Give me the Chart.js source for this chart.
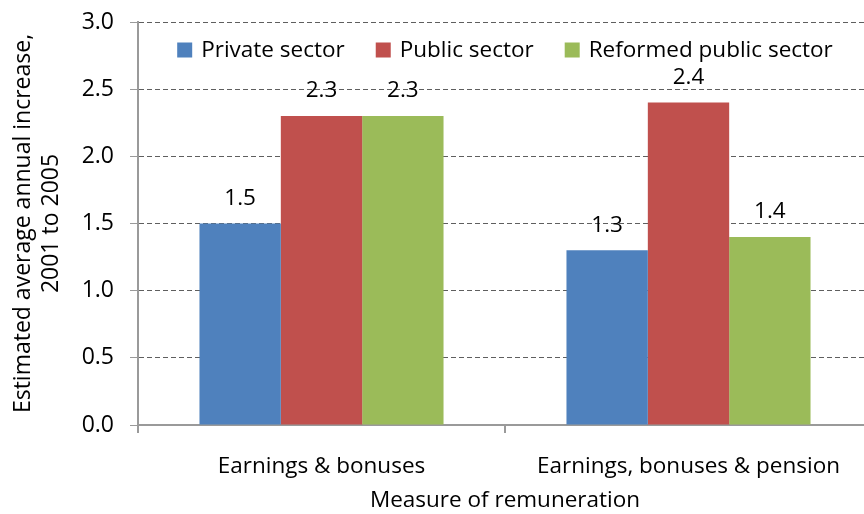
<!DOCTYPE html>
<html>
<head>
<meta charset="utf-8">
<script src="https://cdn.jsdelivr.net/npm/chart.js@4.4.1/dist/chart.umd.min.js"></script>
<style>
  html, body { margin: 0; padding: 0; background: #fff; overflow: hidden; width: 864px; height: 514px; }
  #wrap { position: relative; width: 900px; height: 514px; }
</style>
</head>
<body>
<div id="wrap"><canvas id="c"></canvas></div>
<script>
const categories = ["Earnings & bonuses", "Earnings, bonuses & pension"];
const seriesNames = ["Private sector", "Public sector", "Reformed public sector"];
const privateSector = [1.5, 1.3];
const publicSector = [2.3, 2.4];
const reformedPublicSector = [2.3, 1.4];
const yTicks = [0.0, 0.5, 1.0, 1.5, 2.0, 2.5, 3.0];
const colors = ["#4F81BD", "#C0504D", "#9BBB59"];

const FONT = "'Open Sans', sans-serif";
const FS = 22.5;

const labelPlugin = {
  id: 'valueLabels',
  afterDatasetsDraw(chart) {
    const ctx = chart.ctx;
    ctx.save();
    ctx.font = FS + "px " + FONT;
    ctx.fillStyle = "#000";
    ctx.textAlign = "center";
    ctx.textBaseline = "middle";
    chart.data.datasets.forEach((ds, i) => {
      const meta = chart.getDatasetMeta(i);
      meta.data.forEach((el, j) => {
        ctx.fillText(ds.data[j].toFixed(1), el.x, el.y - 25);
      });
    });
    ctx.restore();
  }
};

const legendPlugin = {
  id: 'insideLegend',
  afterDatasetsDraw(chart) {
    const ctx = chart.ctx;
    const ca = chart.chartArea;
    ctx.save();
    ctx.font = FS + "px " + FONT;
    ctx.textBaseline = "middle";
    const box = 15, gapText = 9, gapItem = 31;
    const items = chart.data.datasets.map(ds => ({ label: ds.label, color: ds.backgroundColor, w: ctx.measureText(ds.label).width }));
    let total = 0;
    items.forEach((it, i) => { total += box + gapText + it.w + (i < items.length - 1 ? gapItem : 0); });
    let x = (ca.left + ca.right) / 2 - total / 2;
    const y = 50;
    items.forEach(it => {
      ctx.fillStyle = it.color;
      ctx.fillRect(x, y - box / 2, box, box);
      ctx.fillStyle = "#000";
      ctx.textAlign = "left";
      ctx.fillText(it.label, x + box + gapText, y + 1);
      x += box + gapText + it.w + gapItem;
    });
    ctx.restore();
  }
};

new Chart(document.getElementById('c'), {
  type: 'bar',
  data: {
    labels: categories,
    datasets: [
      { label: seriesNames[0], data: privateSector, backgroundColor: colors[0] },
      { label: seriesNames[1], data: publicSector, backgroundColor: colors[1] },
      { label: seriesNames[2], data: reformedPublicSector, backgroundColor: colors[2] }
    ]
  },
  options: {
    responsive: true,
    maintainAspectRatio: false,
    animation: false,
    devicePixelRatio: 1,
    layout: { padding: { top: 22, right: 28, left: 9, bottom: 0 } },
    datasets: { bar: { categoryPercentage: 0.665, barPercentage: 1.0, borderWidth: 0 } },
    plugins: {
      legend: { display: false },
      tooltip: { enabled: false }
    },
    scales: {
      x: {
        grid: { display: true, drawOnChartArea: false, drawTicks: true, tickLength: 8, color: '#9a9a9a', offset: true, lineWidth: 2 },
        border: { display: true, color: '#9a9a9a', width: 2 },
        ticks: { color: '#000', font: { family: FONT, size: FS }, padding: 20, maxRotation: 0 },
        title: { display: true, text: 'Measure of remuneration', color: '#000', font: { family: FONT, size: FS }, padding: { top: 4, bottom: 0 } },
        afterFit(scale) { scale.height = 89; }
      },
      y: {
        min: 0, max: 3,
        afterBuildTicks(scale) { scale.ticks = yTicks.map(v => ({ value: v })); },
        grid: {
          color: '#5f5f5f', tickColor: '#9a9a9a', tickLength: 8,
          drawTicks: true
        },
        border: { display: true, color: '#9a9a9a', width: 2, dash: [5, 3] },
        ticks: { color: '#000', font: { family: FONT, size: 23 }, padding: 16, callback: v => Number(v).toFixed(1) },
        title: { display: true, text: ['Estimated average annual increase,', '2001 to 2005'], color: '#000', font: { family: FONT, size: 23, lineHeight: 1.22 }, padding: { top: 0, bottom: 2 } },
        afterFit(scale) { scale.width = 129; scale.paddingTop = 0; scale.paddingBottom = 0; }
      }
    }
  },
  plugins: [labelPlugin, legendPlugin]
});
</script>
</body>
</html>
